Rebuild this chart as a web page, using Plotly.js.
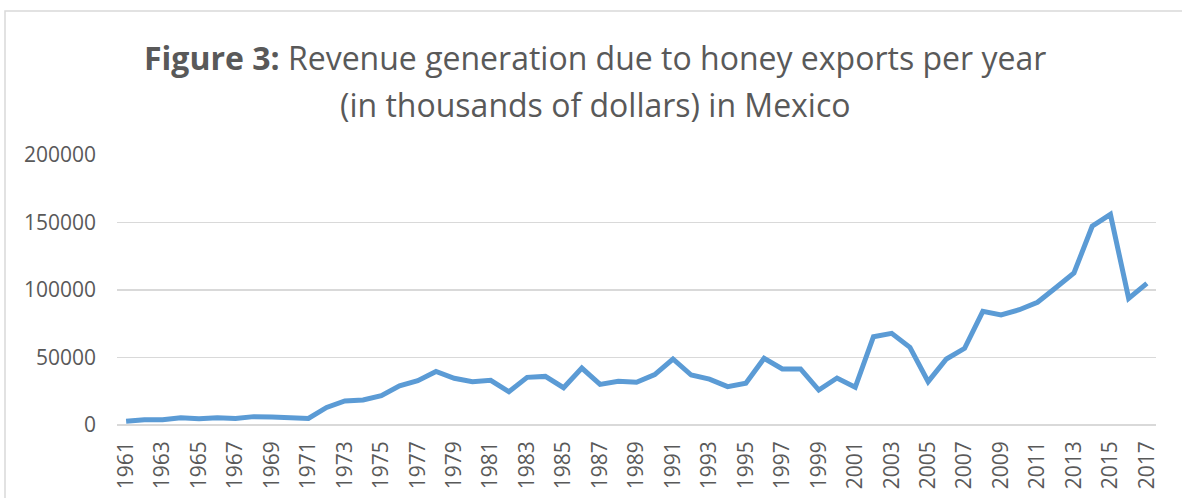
<!DOCTYPE html>
<html>
<head>
<meta charset="utf-8">
<script src="https://cdn.plot.ly/plotly-3.0.1.min.js"></script>
<style>
  html, body { margin: 0; padding: 0; background: #ffffff; }
  #chart { width: 1182px; height: 498px; }
</style>
</head>
<body>
<div id="chart"></div>
<script>
const years = [1961, 1962, 1963, 1964, 1965, 1966, 1967, 1968, 1969, 1970,
  1971, 1972, 1973, 1974, 1975, 1976, 1977, 1978, 1979, 1980,
  1981, 1982, 1983, 1984, 1985, 1986, 1987, 1988, 1989, 1990,
  1991, 1992, 1993, 1994, 1995, 1996, 1997, 1998, 1999, 2000,
  2001, 2002, 2003, 2004, 2005, 2006, 2007, 2008, 2009, 2010,
  2011, 2012, 2013, 2014, 2015, 2016, 2017];

const revenue = [2700, 3900, 3900, 5400, 4700, 5400, 4900, 6200, 6000, 5800,
  4900, 13000, 17800, 18500, 21700, 29000, 32800, 39700, 34600, 32100,
  33100, 24700, 35300, 36000, 27600, 42200, 30100, 32400, 31600, 37300,
  48900, 37000, 34000, 28400, 30900, 49400, 41500, 41500, 25900, 34800,
  27900, 65400, 67900, 57500, 32100, 48900, 56800, 84200, 81500, 85400,
  90900, 101700, 112600, 147200, 156000, 93800, 104900];

const yTicks = [0, 50000, 100000, 150000, 200000];
const xTicks = [1961, 1963, 1965, 1967, 1969, 1971, 1973, 1975, 1977, 1979,
  1981, 1983, 1985, 1987, 1989, 1991, 1993, 1995, 1997, 1999,
  2001, 2003, 2005, 2007, 2009, 2011, 2013, 2015, 2017];

const titleLine1 = '<b>Figure 3:</b> Revenue generation due to honey exports per year';
const titleLine2 = '(in thousands of dollars) in Mexico';

const W = 1182, H = 498;
const L = 117, R = 26, T = 155, B = 73;
const pw = W - L - R, ph = H - T - B;
const px = x => (x - L) / pw;
const py = y => (H - B - y) / ph;

const fontFam = '"Open Sans", "Noto Sans", sans-serif';
const grey = '#595959';

const trace = {
  x: years,
  y: revenue,
  type: 'scatter',
  mode: 'lines',
  line: { color: '#5B9BD5', width: 5, shape: 'linear' },
  hoverinfo: 'x+y'
};

const layout = {
  width: W, height: H,
  margin: { l: L, r: R, t: T, b: B, pad: 0 },
  paper_bgcolor: '#ffffff',
  plot_bgcolor: '#ffffff',
  showlegend: false,
  font: { family: fontFam, color: grey, size: 21 },
  xaxis: {
    type: 'linear',
    range: [1960.5, 2017.5],
    tickvals: xTicks,
    ticktext: xTicks.map(String),
    tickangle: -90,
    ticks: '',
    showgrid: false,
    zeroline: false,
    showline: false,
    ticklabelstandoff: 11,
    tickfont: { family: fontFam, size: 21, color: grey },
    fixedrange: true
  },
  yaxis: {
    range: [0, 200000],
    tickvals: yTicks,
    ticktext: yTicks.map(String),
    ticks: '',
    showgrid: true,
    gridcolor: '#d9d9d9',
    gridwidth: 1.4,
    zeroline: true,
    zerolinecolor: '#d9d9d9',
    zerolinewidth: 1.4,
    showline: false,
    ticklabelstandoff: 20,
    tickfont: { family: fontFam, size: 21, color: grey },
    fixedrange: true
  },
  annotations: [
    {
      text: titleLine1, xref: 'paper', yref: 'paper',
      x: px(595), y: py(57), xanchor: 'center', yanchor: 'middle',
      showarrow: false, font: { family: fontFam, size: 32, color: grey }
    },
    {
      text: titleLine2, xref: 'paper', yref: 'paper',
      x: px(595), y: py(104), xanchor: 'center', yanchor: 'middle',
      showarrow: false, font: { family: fontFam, size: 32, color: grey }
    }
  ],
  shapes: [
    {
      type: 'rect', xref: 'paper', yref: 'paper', layer: 'below',
      x0: px(5), x1: px(1200), y0: py(520), y1: py(11),
      line: { color: '#d9d9d9', width: 1.5 }, fillcolor: 'rgba(0,0,0,0)'
    }
  ]
};

Plotly.newPlot('chart', [trace], layout, { displayModeBar: false, staticPlot: true });
</script>
</body>
</html>
